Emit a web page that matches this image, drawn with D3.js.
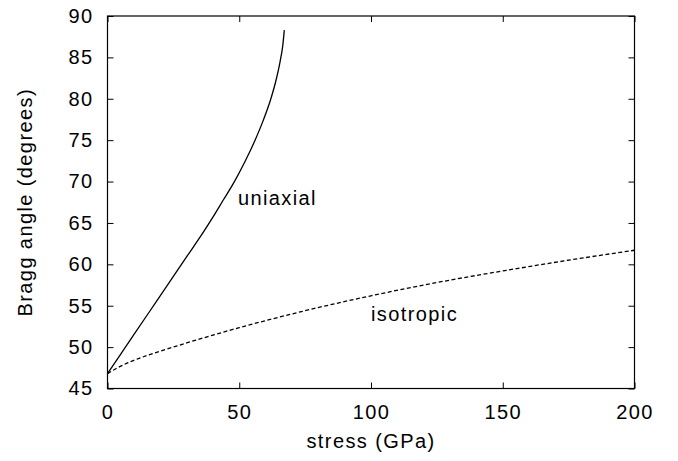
<!DOCTYPE html>
<html>
<head>
<meta charset="utf-8">
<script src="https://d3js.org/d3.v7.min.js"></script>
<style>
body {margin:0; background:#fff;}
svg text {font-family:"Liberation Sans", Arial, sans-serif; font-size:20px; letter-spacing:1.4px; fill:#000;}
</style>
</head>
<body>
<svg width="678" height="461"></svg>
<script>
// stress (GPa) vs Bragg angle (degrees)
var uniStress = [0, 10, 20, 30, 36, 40, 44, 48, 52, 56, 59, 62, 64, 65.5, 66.5, 67.1];
var uniAngle  = [46.8, 51.5, 56.2, 60.9, 63.7, 65.7, 67.8, 69.9, 72.3, 75.0, 77.3, 80.0, 82.3, 84.5, 86.4, 88.3];

var isoStress = [0, 5, 10, 20, 30, 40, 50, 60, 75, 100, 125, 150, 175, 200];
var isoAngle  = [46.8, 47.7, 48.4, 49.5, 50.5, 51.45, 52.35, 53.2, 54.4, 56.2, 57.8, 59.2, 60.5, 61.7];

var xTicks = [0, 50, 100, 150, 200];
var yTicks = [45, 50, 55, 60, 65, 70, 75, 80, 85, 90];

var svg = d3.select("svg");
var pLeft = 107.5, pRight = 634.5, pTop = 16, pBottom = 388.5;

var x = d3.scaleLinear().domain([0, 200]).range([pLeft, pRight]);
var y = d3.scaleLinear().domain([45, 90]).range([pBottom, pTop]);

// inward ticks on all four sides
svg.append("g").attr("transform", "translate(0," + pBottom + ")")
  .call(d3.axisBottom(x).tickValues(xTicks).tickSizeInner(-6).tickSizeOuter(0).tickPadding(16))
svg.append("g").attr("transform", "translate(0," + pTop + ")")
  .call(d3.axisTop(x).tickValues(xTicks).tickSizeInner(-6).tickSizeOuter(0).tickFormat(""))
svg.append("g").attr("transform", "translate(" + pLeft + ",0)")
  .call(d3.axisLeft(y).tickValues(yTicks).tickSizeInner(-6).tickSizeOuter(0).tickPadding(14))
svg.append("g").attr("transform", "translate(" + pRight + ",0)")
  .call(d3.axisRight(y).tickValues(yTicks).tickSizeInner(-6).tickSizeOuter(0).tickFormat(""))

svg.selectAll(".domain").remove();
svg.selectAll(".tick line").attr("stroke", "#000").attr("stroke-width", 1);
svg.selectAll(".tick text").attr("font-size", null).attr("font-family", null);

svg.append("rect")
  .attr("x", pLeft).attr("y", pTop)
  .attr("width", pRight - pLeft).attr("height", pBottom - pTop)
  .attr("fill", "none").attr("stroke", "#000").attr("stroke-width", 1.2);

var line = d3.line()
  .x(function(d) { return x(d[0]); })
  .y(function(d) { return y(d[1]); })
  .curve(d3.curveMonotoneX);

svg.append("path")
  .datum(d3.zip(uniStress, uniAngle))
  .attr("d", line)
  .attr("fill", "none").attr("stroke", "#000").attr("stroke-width", 1.3);

svg.append("path")
  .datum(d3.zip(isoStress, isoAngle))
  .attr("d", line)
  .attr("fill", "none").attr("stroke", "#000").attr("stroke-width", 1.3)
  .attr("stroke-dasharray", "4,2.5");

// curve labels
svg.append("text").attr("x", x(49.5)).attr("y", y(67.2))
  .text("uniaxial");
svg.append("text").attr("x", x(100)).attr("y", y(53.2))
  .text("isotropic");

// axis titles
svg.append("text")
  .attr("x", (pLeft + pRight) / 2).attr("y", 448)
  .attr("text-anchor", "middle")
  .text("stress (GPa)");

svg.append("text")
  .attr("transform", "translate(32," + ((pTop + pBottom) / 2) + ") rotate(-90)")
  .attr("text-anchor", "middle")
  .text("Bragg angle (degrees)");
</script>
</body>
</html>
